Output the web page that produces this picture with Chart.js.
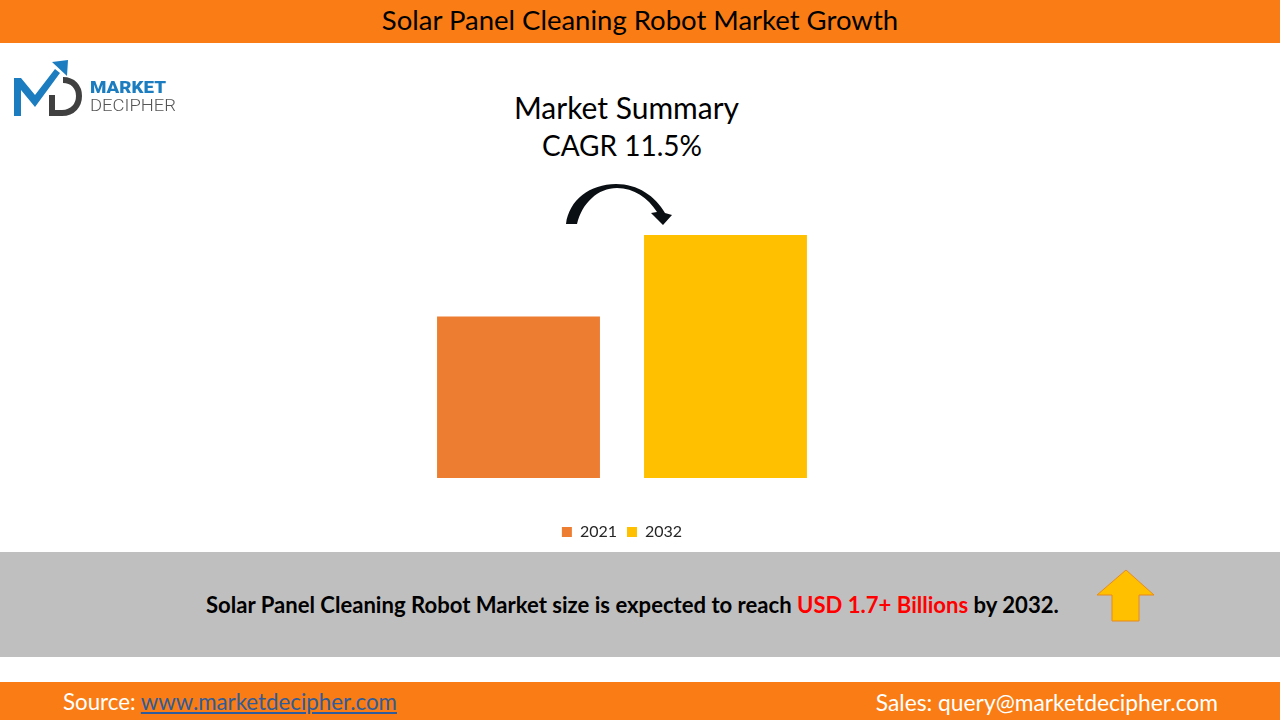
<!DOCTYPE html>
<html>
<head>
<meta charset="utf-8">
<title>Solar Panel Cleaning Robot Market Growth</title>
<script src="https://cdn.jsdelivr.net/npm/chart.js@4/dist/chart.umd.min.js"></script>
<style>
  html, body { margin: 0; padding: 0; background: #fff; }
  body { width: 1280px; height: 720px; position: relative; overflow: hidden; font-family: Lato, sans-serif; color: #000; }
  .band { position: absolute; left: 0; width: 1280px; }
  .txt { position: absolute; white-space: nowrap; line-height: 1; }
  #header { top: 0; height: 43px; background: #F97D14; }
  #info { top: 552px; height: 105px; background: #BFBFBF; }
  #footer { top: 682px; height: 38px; background: #F97D14; }
  #chartBox { position: absolute; left: 415px; top: 235px; width: 414px; height: 315px; }
  a { color: #2F5C9C; }
  svg { position: absolute; left: 0; top: 0; }
</style>
</head>
<body>
<div class="band" id="header"></div>
<div class="band" id="info"></div>
<div class="band" id="footer"></div>

<div class="txt" style="left:0;width:1280px;text-align:center;top:6px;font-size:27.5px">Solar Panel Cleaning Robot Market Growth</div>
<div class="txt" style="left:0;width:1253px;text-align:center;top:92px;font-size:30px">Market Summary</div>
<div class="txt" style="left:0;width:1244px;text-align:center;top:131px;font-size:28px">CAGR 11.5%</div>
<div class="txt" style="left:206px;top:594px;font-size:22.1px;font-weight:700">Solar Panel Cleaning Robot Market size is expected to reach <span style="color:#FF0000">USD 1.7+ Billions</span> by 2032.</div>
<div class="txt" style="left:63px;top:691px;font-size:22.3px;color:#fff">Source: <a href="#">www.marketdecipher.com</a></div>
<div class="txt" style="right:62px;top:691px;font-size:22.8px;color:#fff">Sales: query@marketdecipher.com</div>

<div id="chartBox"><canvas id="chartMarket"></canvas></div>

<svg width="1280" height="720">
  <!-- Logo -->
  <polygon points="14,78 21,78 35,95 55,69 60,73 35,107 21,90 21,116 14,116" fill="#1B7DBF"/>
  <polygon points="52,62 68,60 67,76" fill="#1B7DBF"/>
  <path d="M52 95 V113 H62 C73 113 79 105 79 96 C79 87 73 80 63 80" fill="none" stroke="#404040" stroke-width="6"/>
  <text x="90" y="93" font-family="Roboto" font-weight="900" font-size="16" fill="#1B7DBF" textLength="76" lengthAdjust="spacingAndGlyphs">MARKET</text>
  <text x="90" y="111" font-family="Roboto" font-weight="300" font-size="16" fill="#555555" textLength="86" lengthAdjust="spacingAndGlyphs">DECIPHER</text>
  <!-- Fleche courbe -->
  <path d="M566 224 C569 200 590 184 616 184 C638 184 655 196 665 213 L672 215 L663 225 L651 213 L657 212 C648 198 634 188 617 188 C598 188 582 203 577 224 Z" fill="#0A0F14"/>
  <!-- Fleche haut -->
  <polygon points="1126,570 1097,595 1112,595 1112,621 1139,621 1139,595 1154,595" fill="#FFC000" stroke="#E98A1C" stroke-width="1"/>
</svg>

<script>
const years = ['2021', '2032'];
const marketSize = [1.13, 1.7];
const barColors = ['#ED7D31', '#FFC000'];
const categories = ['Market'];

new Chart(document.getElementById('chartMarket'), {
  type: 'bar',
  data: {
    labels: categories,
    datasets: years.map((y, i) => ({
      label: y,
      data: [marketSize[i]],
      backgroundColor: barColors[i],
      barPercentage: 0.787,
      categoryPercentage: 1
    }))
  },
  options: {
    responsive: true,
    maintainAspectRatio: false,
    animation: false,
    layout: { padding: 0 },
    plugins: {
      tooltip: { enabled: false },
      legend: {
        position: 'bottom',
        labels: {
          boxWidth: 10,
          boxHeight: 10,
          padding: 10,
          color: '#262626',
          font: { family: 'Lato', size: 16 }
        }
      }
    },
    scales: {
      x: {
        grid: { display: false },
        border: { display: false },
        ticks: { display: false },
        afterFit: s => { s.height = 36; }
      },
      y: { display: false, min: 0, max: 1.7 }
    }
  }
});
</script>
</body>
</html>
